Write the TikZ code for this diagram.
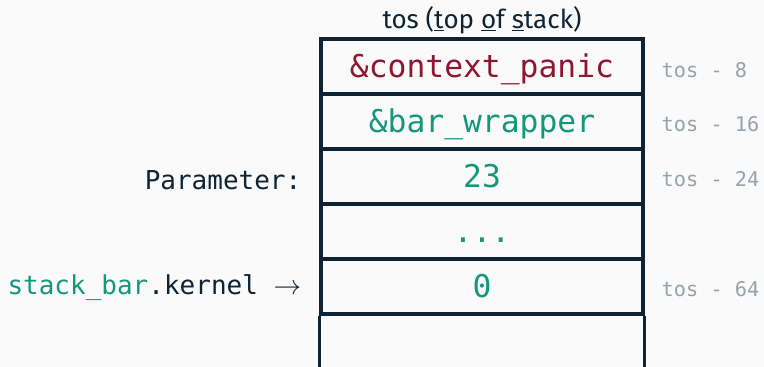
\documentclass[tikz,border=0pt]{standalone}
\usepackage{fontspec}
\setmainfont{Fira Sans}
\setmonofont{DejaVu Sans Mono}
\usepackage{tikz}
\usetikzlibrary{positioning}
\definecolor{ink}{HTML}{0D2436}
\definecolor{codered}{HTML}{8F1630}
\definecolor{codegreen}{HTML}{14977A}
\definecolor{offsetgrey}{HTML}{97A3AB}
\definecolor{paper}{HTML}{FAFAFA}

\begin{document}
\begin{tikzpicture}[x=0.75pt, y=-0.75pt,
  frame/.style={draw=ink, line width=2.6pt},
  cell/.style={frame, minimum width=241.5pt, minimum height=41.25pt, inner sep=0pt,
    text height=17pt, text depth=0pt,
    font=\fontsize{23.5}{26}\selectfont\ttfamily, text=codegreen},
  offset/.style={anchor=west, font=\fontsize{15.2}{17}\selectfont\ttfamily, text=offsetgrey},
  side/.style={anchor=east, font=\fontsize{19.5}{22}\selectfont\ttfamily, text=ink}]
\fill[paper] (0,0) rectangle (764,367);
\useasboundingbox (0,0) rectangle (764,367);

\node[font=\fontsize{19.5}{22}\selectfont, text=ink] (title) at (482,20)
     {tos (\underline{t}op \underline{o}f \underline{s}tack)};

\node[cell, text=codered] (r1) at (482,66.5) {\&context\_panic};
\node[cell] (r2) at (482,121.5) {\&bar\_wrapper};
\node[cell] (r3) at (482,176.5) {23};
\node[cell] (r4) at (482,231.5) {...};
\node[cell] (r5) at (482,286.5) {0};
\draw[frame] (r5.south west) -- ++(0,56);
\draw[frame] (r5.south east) -- ++(0,56);

\node[side] (param) at (306,180) {Parameter:};
\node[side] (kern) at (306,288) {\textcolor{codegreen}{stack\_bar}.kernel $\rightarrow$};

\node[offset] (o1) at (657,70) {tos - 8};
\node[offset] (o2) at (657,124) {tos - 16};
\node[offset] (o3) at (657,179) {tos - 24};
\node[offset] (o5) at (657,289) {tos - 64};
\end{tikzpicture}
\end{document}
